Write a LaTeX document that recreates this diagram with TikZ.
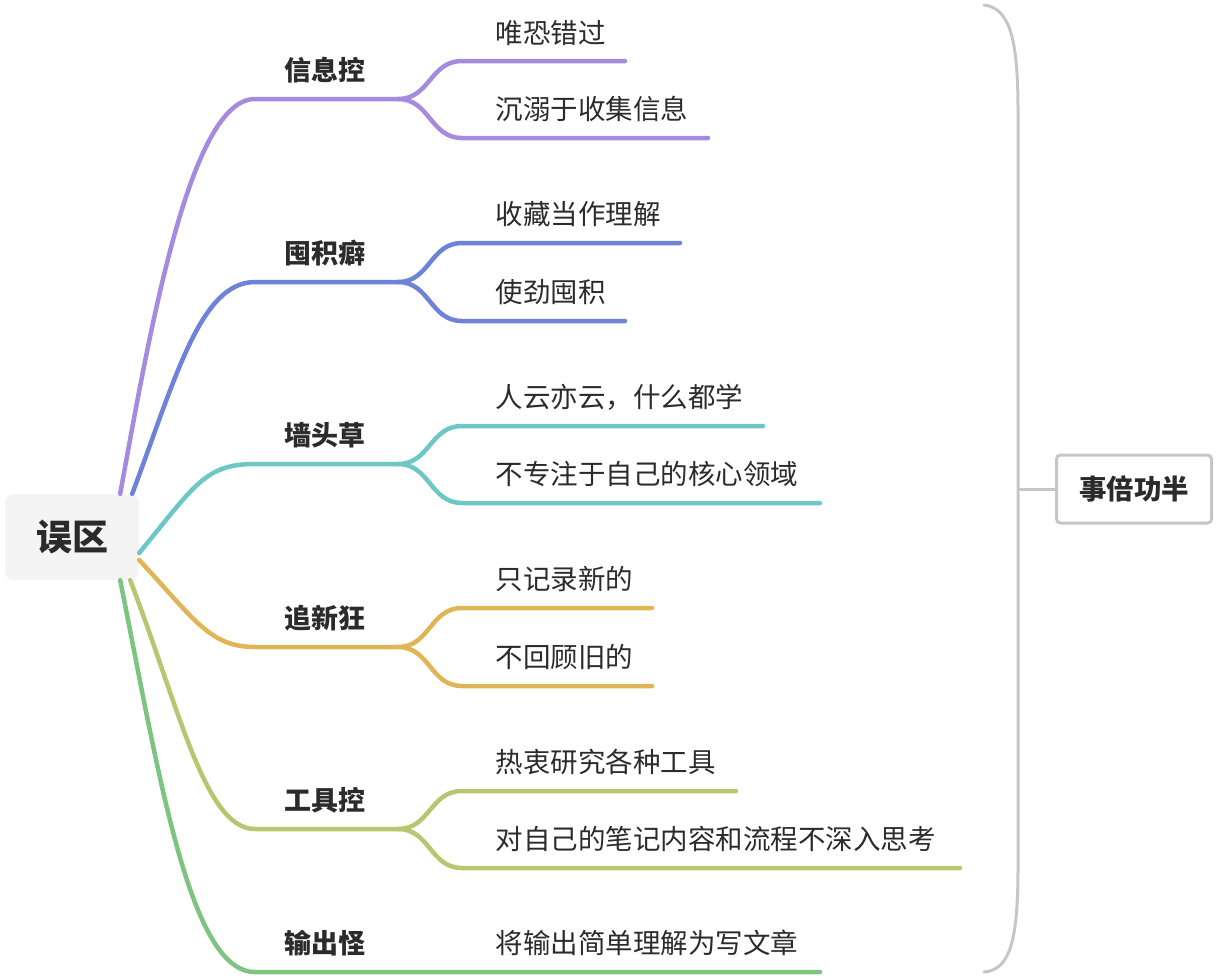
\documentclass[tikz,border=0pt]{standalone}
\usepackage{fontspec}
\setmainfont{Noto Sans CJK SC}
\usetikzlibrary{positioning, calc}

\definecolor{cPurple}{HTML}{A68AE0}
\definecolor{cBlue}{HTML}{6D82D8}
\definecolor{cTeal}{HTML}{6DC7C5}
\definecolor{cOrange}{HTML}{E0B655}
\definecolor{cOlive}{HTML}{B6C86F}
\definecolor{cGreen}{HTML}{7CC480}
\definecolor{cGrey}{HTML}{C6C6C6}
\definecolor{cRootFill}{HTML}{F4F4F4}
\definecolor{cText}{HTML}{2B2B2B}

\begin{document}
\begin{tikzpicture}[
  x=1pt, y=-1pt,
  root/.style={rectangle, rounded corners=8pt, fill=cRootFill,
               minimum width=134pt, minimum height=86pt,
               font=\fontsize{36}{42}\selectfont\bfseries, text=cText},
  topic/.style={font=\fontsize{27}{32}\selectfont\bfseries, text=cText},
  leaf/.style={anchor=west, font=\fontsize{27.5}{32}\selectfont, text=cText},
  summary/.style={rectangle, rounded corners=4pt, draw=cGrey, line width=3pt,
                  fill=white, minimum width=155pt, minimum height=68pt,
                  font=\fontsize{27.5}{32}\selectfont\bfseries, text=cText},
  branch/.style={line width=4.5pt, line cap=round},
  brace/.style={draw=cGrey, line width=3pt, line cap=round},
]
\useasboundingbox (0,0) rectangle (1220,978);

% ---- 中心 ----
\node[root] (root) at (72,537) {误区};

% ---- 分支 ----
\node[topic] (xxk) at (325,70)  {信息控};
\node[topic] (tjp) at (325,253) {囤积癖};
\node[topic] (qtc) at (325,435) {墙头草};
\node[topic] (zxk) at (325,618) {追新狂};
\node[topic] (gjk) at (325,800) {工具控};
\node[topic] (sck) at (325,943) {输出怪};

\foreach \n/\y in {xxk/99, tjp/282, qtc/464, zxk/647, gjk/829, sck/972} {
  \coordinate (\n-l) at (255,\y);
  \coordinate (\n-r) at (398,\y);
}

% ---- 子项 ----
\node[leaf] (xxk-a) at (492,33)  {唯恐错过};
\node[leaf] (xxk-b) at (492,109) {沉溺于收集信息};
\node[leaf] (tjp-a) at (492,214) {收藏当作理解};
\node[leaf] (tjp-b) at (492,292) {使劲囤积};
\node[leaf] (qtc-a) at (492,397) {人云亦云，什么都学};
\node[leaf] (qtc-b) at (492,474) {不专注于自己的核心领域};
\node[leaf] (zxk-a) at (492,579) {只记录新的};
\node[leaf] (zxk-b) at (492,657) {不回顾旧的};
\node[leaf] (gjk-a) at (492,762) {热衷研究各种工具};
\node[leaf] (gjk-b) at (492,839) {对自己的笔记内容和流程不深入思考};
\node[leaf] (sck-a) at (492,943) {将输出简单理解为写文章};

\foreach \n/\y/\e in {xxk-a/61/625, xxk-b/138/708, tjp-a/243/680, tjp-b/321/625,
                      qtc-a/426/763, qtc-b/503/820, zxk-a/608/652, zxk-b/686/652,
                      gjk-a/791/736, gjk-b/868/960} {
  \coordinate (\n-l) at (462,\y);
  \coordinate (\n-r) at (\e,\y);
}
\coordinate (sck-a-r) at (820,972);

% ---- 连线 ----
\draw[branch, cPurple] ([xshift=-19pt]root.north east)
  .. controls (150,330) and (190,99) .. (xxk-l) -- (xxk-r);
\draw[branch, cBlue] ([xshift=-7pt]root.north east)
  .. controls (175,380) and (200,282) .. (tjp-l) -- (tjp-r);
\draw[branch, cTeal] ([yshift=-16pt]root.east)
  .. controls (195,485) and (205,464) .. (qtc-l) -- (qtc-r);
\draw[branch, cOrange] ([yshift=-23pt]root.east)
  .. controls (195,620) and (210,647) .. (zxk-l) -- (zxk-r);
\draw[branch, cOlive] ([xshift=-9pt]root.south east)
  .. controls (180,710) and (205,829) .. (gjk-l) -- (gjk-r);
\draw[branch, cGreen] ([xshift=-19pt]root.south east)
  .. controls (160,780) and (190,972) .. (sck-l) -- (sck-a-r);

\foreach \n/\c in {xxk/cPurple, tjp/cBlue, qtc/cTeal, zxk/cOrange, gjk/cOlive} {
  \draw[branch, \c] (\n-r) .. controls (430,0|-\n-r) and (430,0|-\n-a-l) .. (\n-a-l) -- (\n-a-r);
  \draw[branch, \c] (\n-r) .. controls (430,0|-\n-r) and (430,0|-\n-b-l) .. (\n-b-l) -- (\n-b-r);
}

% ---- 总结 ----
\node[summary] (sum) at (1134,489) {事倍功半};
\coordinate (b-top) at (984,5);
\coordinate (b-bot) at (984,972);
\coordinate (b-mid) at (1020,489);
\draw[brace] (b-top) .. controls (1010,8) and (1018,40) .. (1018,110)
  -- (1018,868) .. controls (1018,940) and (1010,970) .. (b-bot);
\draw[brace] (b-mid) -- (sum.west);

\end{tikzpicture}
\end{document}
